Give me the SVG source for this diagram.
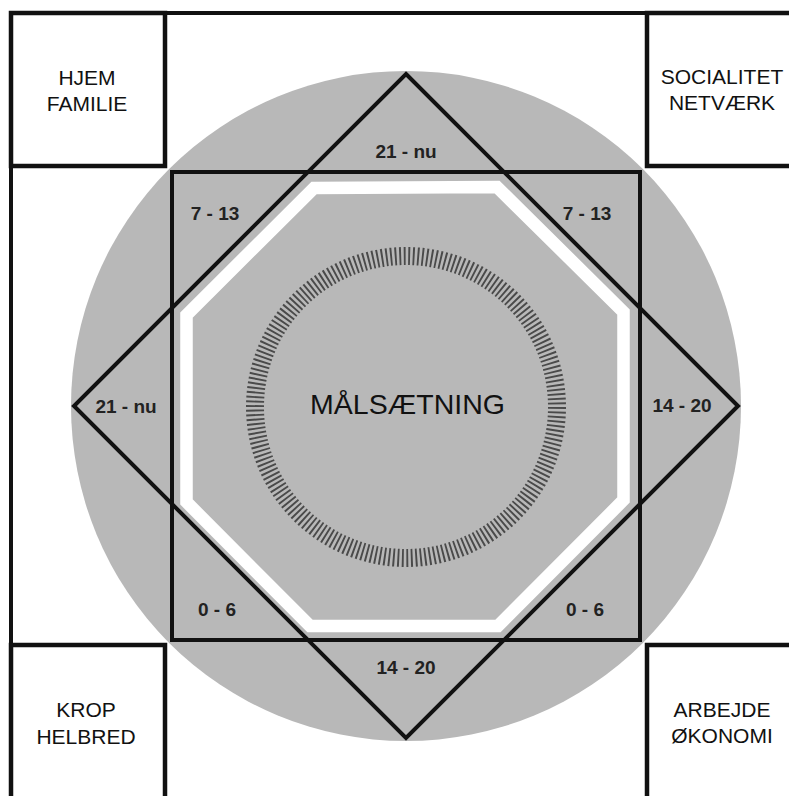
<svg xmlns="http://www.w3.org/2000/svg" width="789" height="796" viewBox="0 0 789 796">
  <style>
    .ln { fill: none; stroke: #111; stroke-width: 4; }
    .box { fill: #fff; stroke: #111; stroke-width: 4.5; }
    .corner { font-family: "Liberation Sans", Arial, sans-serif; font-size: 21px; fill: #111; text-anchor: middle; }
    .age { font-family: "Liberation Sans", Arial, sans-serif; font-size: 19px; font-weight: bold; fill: #222; text-anchor: middle; }
    .title { font-family: "Liberation Sans", Arial, sans-serif; font-size: 28.5px; fill: #111; text-anchor: middle; }
  </style>
  <rect x="0" y="0" width="789" height="796" fill="#fff"/>

  <!-- outer frame -->
  <g id="frame">
    <path class="ln" d="M11 800 L11 13 L800 13" stroke-width="4.5"/>
  </g>

  <!-- central circle -->
  <g id="circle">
    <circle cx="406" cy="406" r="335" fill="#b8b8b8"/>
  </g>

  <!-- corner boxes -->
  <g id="hjem">
    <rect class="box" x="11" y="13" width="154" height="153"/>
    <text class="corner" x="87" y="84.5">HJEM</text>
    <text class="corner" x="87" y="110.5">FAMILIE</text>
  </g>
  <g id="socialitet">
    <rect class="box" x="647" y="13" width="160" height="153"/>
    <text class="corner" x="722" y="84">SOCIALITET</text>
    <text class="corner" x="722" y="110">NETVÆRK</text>
  </g>
  <g id="krop">
    <rect class="box" x="11" y="645" width="154" height="160"/>
    <text class="corner" x="86" y="716.5">KROP</text>
    <text class="corner" x="86" y="743.5">HELBRED</text>
  </g>
  <g id="arbejde">
    <rect class="box" x="647" y="645" width="160" height="160"/>
    <text class="corner" x="722" y="717">ARBEJDE</text>
    <text class="corner" x="722" y="743">ØKONOMI</text>
  </g>

  <!-- white octagon -->
  <g id="octagon">
    <polygon points="314,188 497,187 623.5,312 623.5,500 498,626 310,626 186.5,502 186.5,315" fill="#b8b8b8" stroke="#fff" stroke-width="12.5" stroke-linejoin="miter"/>
  </g>

  <!-- square and diamond -->
  <g id="connectors">
    <rect class="ln" x="172" y="172" width="468" height="468" stroke-width="3.8"/>
    <polygon class="ln" points="406,74 738,406 406,738 74,406" stroke-width="3.8" stroke-linejoin="miter"/>
  </g>

  <!-- tick ring -->
  <g id="ring">
    <circle cx="406" cy="407" r="151" fill="none" stroke="#4a4a4a" stroke-width="18" pathLength="210" stroke-dasharray="0.42 0.58"/>
  </g>

  <g id="center">
    <text class="title" x="407.5" y="414">MÅLSÆTNING</text>
  </g>

  <!-- age labels -->
  <g id="labels">
    <text class="age" x="406" y="158">21 - nu</text>
    <text class="age" x="215" y="220">7 - 13</text>
    <text class="age" x="587" y="220">7 - 13</text>
    <text class="age" x="126" y="413">21 - nu</text>
    <text class="age" x="682" y="412">14 - 20</text>
    <text class="age" x="217" y="616">0 - 6</text>
    <text class="age" x="585" y="616">0 - 6</text>
    <text class="age" x="406" y="674">14 - 20</text>
  </g>
</svg>
